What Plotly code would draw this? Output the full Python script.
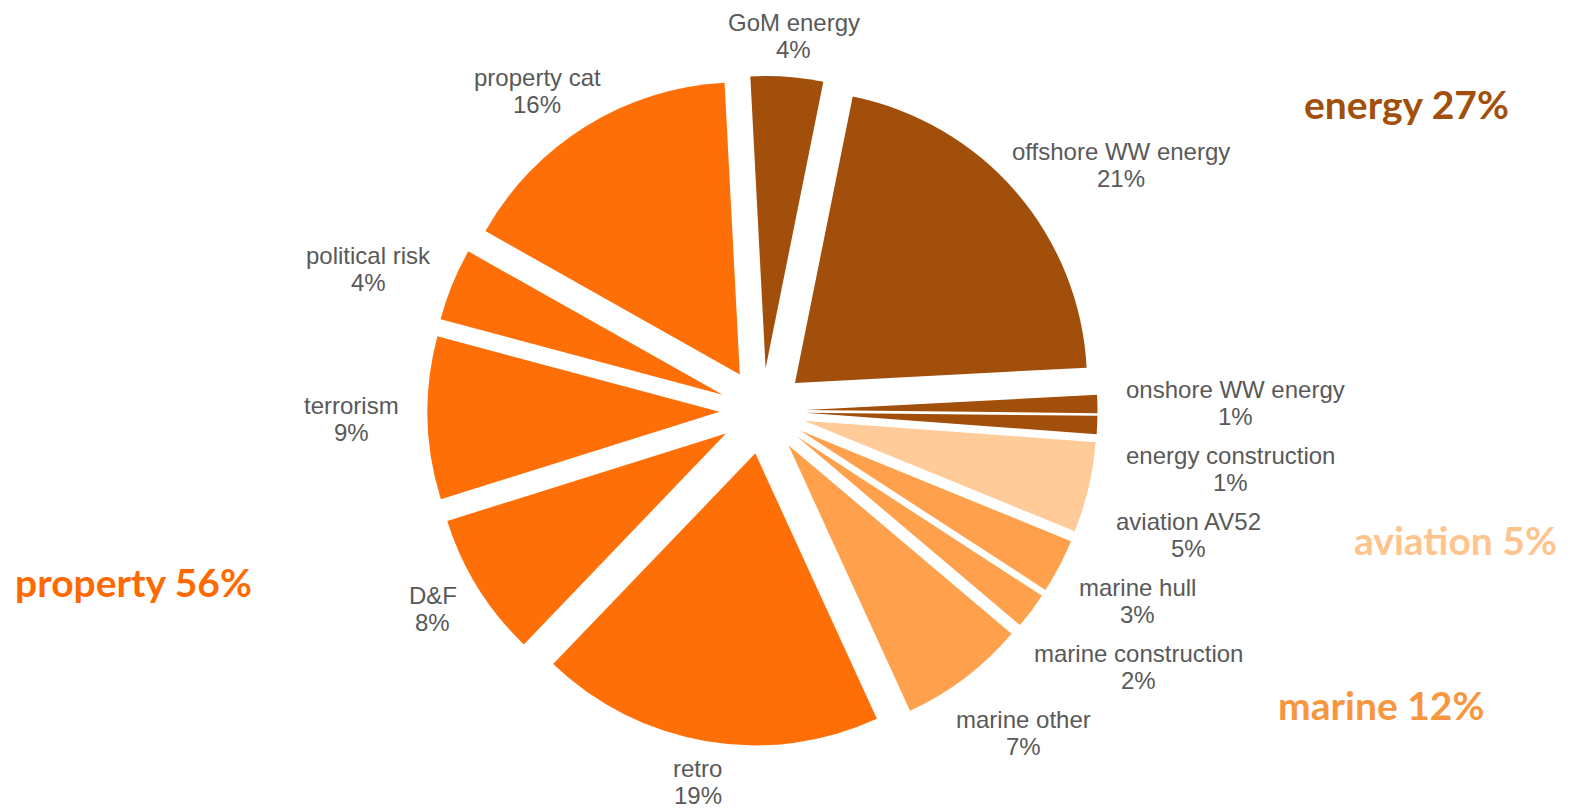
import math
import plotly.graph_objects as go

# Portfolio split by line of business (share of premium, %)
lines = ["GoM energy", "offshore WW energy", "onshore WW energy", "energy construction",
         "aviation AV52", "marine hull", "marine construction", "marine other",
         "retro", "D&F", "terrorism", "political risk", "property cat"]
shares = [4, 21, 1, 1, 5, 3, 2, 7, 19, 8, 9, 4, 16]
groups = ["energy", "energy", "energy", "energy",
          "aviation", "marine", "marine", "marine",
          "property", "property", "property", "property", "property"]

group_colors = {"energy": "#A14F0B", "aviation": "#FFCC99",
                "marine": "#FFA04D", "property": "#FF6F08"}
group_text_colors = {"energy": "#A14F0B", "aviation": "#FFC48D",
                     "marine": "#F7963E", "property": "#FF6A00"}

W, H = 1576, 809
DOM_X = [0.1838, 0.7838]
DOM_Y = [0.0779, 0.9061]
PULL = 0.147
ROTATION = -3
LABEL_SIZE = 24
LABEL_FONT = "Liberation Sans, Arial, sans-serif"
LABEL_COLOR = "#595959"

fig = go.Figure(go.Pie(
    labels=lines,
    values=shares,
    sort=False,
    direction="clockwise",
    rotation=ROTATION,
    pull=[PULL] * len(lines),
    marker=dict(colors=[group_colors[g] for g in groups], line=dict(width=0)),
    textinfo="none",
    hoverinfo="label+value",
    domain=dict(x=DOM_X, y=DOM_Y),
    showlegend=False,
))

# --- slice labels placed just beyond the outer edge of each pulled slice ---
cx = (DOM_X[0] + DOM_X[1]) / 2 * W
cy = (1 - (DOM_Y[0] + DOM_Y[1]) / 2) * H
r = min((DOM_X[1] - DOM_X[0]) * W, (DOM_Y[1] - DOM_Y[0]) * H) / (2 * (1 + PULL))
r_out = r * (1 + PULL)
radial_gap = 14
side_gap = 15
line_h = 27
min_sep = 12

ARIAL = {" ": 278, "%": 889, "&": 667, "A": 667, "D": 722, "F": 611, "G": 778,
         "M": 833, "V": 667, "W": 944, "f": 278, "i": 222, "j": 222, "l": 222,
         "m": 833, "r": 333, "t": 278, "c": 500, "k": 500, "s": 500, "v": 500,
         "w": 722, "x": 500, "y": 500, "z": 500}


def text_width(s, size):
    return sum(ARIAL.get(ch, 556) for ch in s) / 1000 * size


total = sum(shares)
boxes = []
cum = 0
for name, v in zip(lines, shares):
    theta = math.radians(360 * (cum + v / 2) / total + ROTATION)
    cum += v
    s, c = math.sin(theta), math.cos(theta)
    pct = f"{round(100 * v / total)}%"
    w = max(text_width(name, LABEL_SIZE), text_width(pct, LABEL_SIZE))
    h = 2 * line_h
    d = r_out + radial_gap
    px = cx + d * s + (w / 2 + side_gap) * s
    py = cy - d * c - h / 2 * c
    boxes.append(dict(name=name, pct=pct, x=px, y=py, w=w, h=h, s=s))

# on the right-hand side, walk clockwise and push crowded labels downwards
right = [b for b in boxes if b["s"] > 0]
for prev, cur in zip(right, right[1:]):
    if abs(prev["x"] - cur["x"]) < (prev["w"] + cur["w"]) / 2:
        need = (prev["h"] + cur["h"]) / 2 + min_sep
        cur["y"] = max(cur["y"], prev["y"] + need)

for b in boxes:
    for txt, off in ((b["name"], -line_h / 2), (b["pct"], line_h / 2)):
        fig.add_annotation(x=b["x"] / W, y=1 - (b["y"] + off) / H,
                           xref="paper", yref="paper", text=txt, showarrow=False,
                           xanchor="center", yanchor="middle",
                           font=dict(family=LABEL_FONT, size=LABEL_SIZE, color=LABEL_COLOR))

# --- group totals, computed from the slices ---
totals = {}
for g, v in zip(groups, shares):
    totals[g] = totals.get(g, 0) + v

group_label_pos = {"energy": (0.8925, 0.871), "aviation": (0.9235, 0.333),
                   "marine": (0.8765, 0.129), "property": (0.0845, 0.281)}
for g, (x, y) in group_label_pos.items():
    fig.add_annotation(x=x, y=y, xref="paper", yref="paper",
                       text=f"<b>{g} {totals[g]}%</b>", showarrow=False,
                       xanchor="center", yanchor="middle",
                       font=dict(family="Lato, Open Sans, sans-serif", size=39,
                                 color=group_text_colors[g]))

fig.update_layout(width=W, height=H,
                  margin=dict(l=0, r=0, t=0, b=0, pad=0, autoexpand=False),
                  paper_bgcolor="white", plot_bgcolor="white")
fig.write_html("out.html")
